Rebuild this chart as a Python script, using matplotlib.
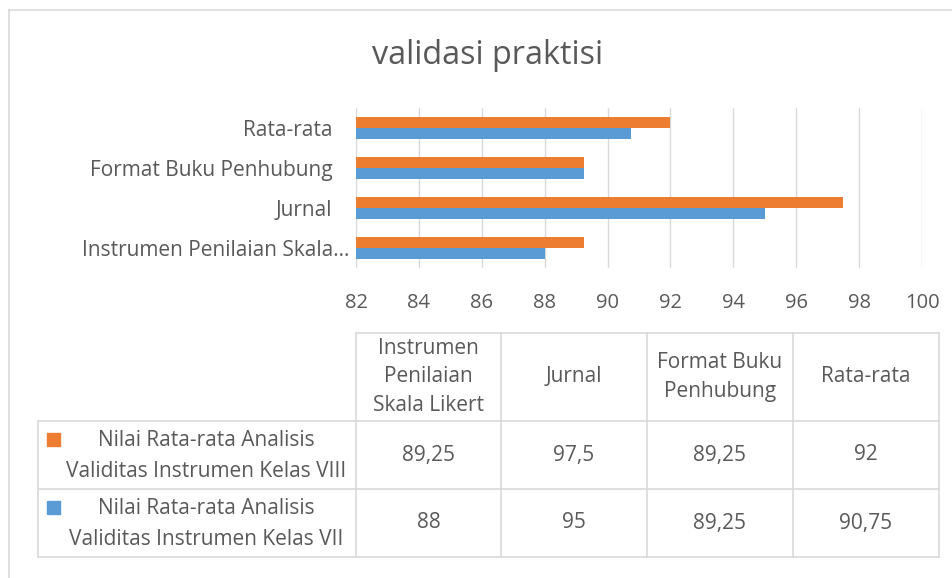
import matplotlib
matplotlib.use("Agg")
import matplotlib.pyplot as plt
from matplotlib.transforms import ScaledTranslation
from matplotlib.patches import Rectangle
from matplotlib.lines import Line2D

# ---------------- data ----------------
categories = ["Instrumen Penilaian Skala Likert", "Jurnal", "Format Buku Penhubung", "Rata-rata"]
axis_labels = ["Instrumen Penilaian Skala…", "Jurnal", "Format Buku Penhubung", "Rata-rata"]
header_labels = ["Instrumen\nPenilaian\nSkala Likert", "Jurnal", "Format Buku\nPenhubung", "Rata-rata"]
series_names = ["Nilai Rata-rata Analisis\nValiditas Instrumen Kelas VIII",
                "Nilai Rata-rata Analisis\nValiditas Instrumen Kelas VII"]
kelas_viii = [89.25, 97.5, 89.25, 92]
kelas_vii = [88, 95, 89.25, 90.75]
value_text_viii = ["89,25", "97,5", "89,25", "92"]
value_text_vii = ["88", "95", "89,25", "90,75"]
x_ticks = [82, 84, 86, 88, 90, 92, 94, 96, 98, 100]
title = "validasi praktisi"

ORANGE = "#ED7D31"
BLUE = "#5B9BD5"
TXT = "#595959"
GRID = "#D9D9D9"
FONT = ["Open Sans", "DejaVu Sans"]
FS = 14.5

W, H = 953, 578
plt.rcParams["font.family"] = FONT
fig = plt.figure(figsize=(W / 100, H / 100), dpi=100)


def fx(x):
    return x / W


def fy(y):
    return 1 - y / H


# outer chart border (partially cropped)
fig.add_artist(Line2D([fx(9), fx(9)], [fy(10), fy(578)], color=GRID, lw=1.2))
fig.add_artist(Line2D([fx(9), fx(953)], [fy(10), fy(10)], color=GRID, lw=1.2))

# title
fig.text(fx(488), fy(56), title, ha="center", va="center", fontsize=23.3, color=TXT)

# ---------------- bar chart ----------------
ax_l, ax_r, ax_t, ax_b = 356, 922, 108, 268
ax = fig.add_axes([fx(ax_l), fy(ax_b), fx(ax_r - ax_l), (ax_b - ax_t) / H])
ypos = list(range(len(categories)))
bh = 0.275
ax.barh([y + bh / 2 for y in ypos], [v - 82 for v in kelas_viii], left=82, height=bh, color=ORANGE, zorder=3)
ax.barh([y - bh / 2 for y in ypos], [v - 82 for v in kelas_vii], left=82, height=bh, color=BLUE, zorder=3)
ax.set_xlim(82, 100)
ax.set_ylim(-0.5, len(categories) - 0.5)
ax.set_xticks(x_ticks)
ax.set_xticklabels([str(t) for t in x_ticks], fontsize=FS, color=TXT)
ax.set_yticks(ypos)
ax.set_yticklabels(axis_labels, fontsize=15, color=TXT)
ax.tick_params(axis="y", length=0, pad=17)
ax.tick_params(axis="x", length=0, pad=18)
ax.grid(axis="x", color=GRID, lw=1, zorder=0)
for s in ax.spines.values():
    s.set_visible(False)
ax.set_facecolor("none")
# truncated label sits a bit further right
lab0 = ax.get_yticklabels()[0]
lab0.set_transform(lab0.get_transform() + ScaledTranslation(0.17, 0, fig.dpi_scale_trans))

# ---------------- data table ----------------
col_x = [356, 501, 647, 793, 939]
row_y = [333, 421, 489, 557]
leg_x = 38
lw = 1.2
fig.add_artist(Line2D([fx(col_x[0]), fx(col_x[-1])], [fy(row_y[0])] * 2, color=GRID, lw=lw))
for y in row_y[1:]:
    fig.add_artist(Line2D([fx(leg_x), fx(col_x[-1])], [fy(y)] * 2, color=GRID, lw=lw))
for x in col_x:
    fig.add_artist(Line2D([fx(x)] * 2, [fy(row_y[0]), fy(row_y[-1])], color=GRID, lw=lw))
fig.add_artist(Line2D([fx(leg_x)] * 2, [fy(row_y[1]), fy(row_y[-1])], color=GRID, lw=lw))

TFS = 15
# header
for i, lab in enumerate(header_labels):
    cx = (col_x[i] + col_x[i + 1]) / 2
    cy = (row_y[0] + row_y[1]) / 2
    fig.text(fx(cx), fy(cy), lab, ha="center", va="center", fontsize=TFS, color=TXT, linespacing=1.48)

# data rows
rows = [(series_names[0], ORANGE, value_text_viii), (series_names[1], BLUE, value_text_vii)]
for r, (name, col, vals) in enumerate(rows):
    top, bot = row_y[r + 1], row_y[r + 2]
    cy = (top + bot) / 2
    fig.add_artist(Rectangle((fx(47), fy(top + 25)), fx(13), 13 / H, color=col, transform=fig.transFigure))
    fig.text(fx(206), fy(cy + 1), name, ha="center", va="center", fontsize=TFS, color=TXT, linespacing=1.68)
    for i, v in enumerate(vals):
        cx = (col_x[i] + col_x[i + 1]) / 2
        fig.text(fx(cx), fy(cy), v, ha="center", va="center", fontsize=TFS, color=TXT)

fig.savefig("out.png", dpi=100)
